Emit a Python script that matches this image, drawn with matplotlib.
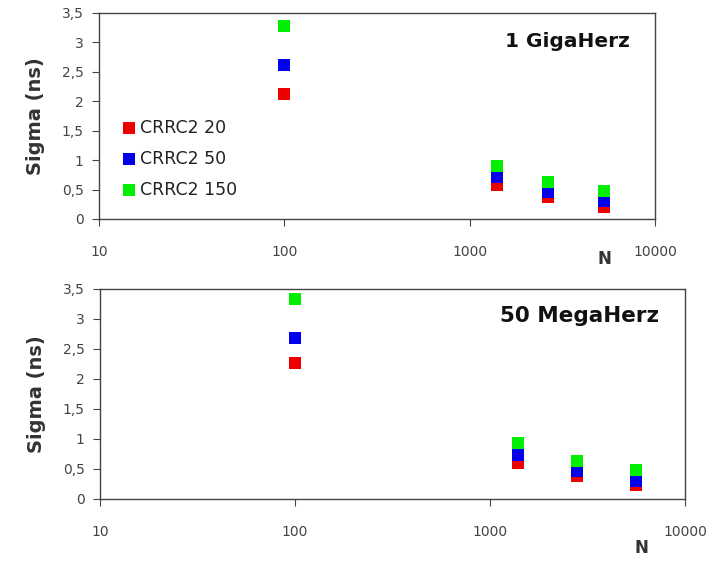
import matplotlib.pyplot as plt
from matplotlib.ticker import FuncFormatter, FixedLocator

labels = ['CRRC2 20', 'CRRC2 50', 'CRRC2 150']
colors = ['#ee0000', '#0000ee', '#00ee00']

# 1 GHz
n_ghz = [100, 1400, 2650, 5300]
ghz = [
    [2.13, 0.58, 0.37, 0.21],
    [2.62, 0.71, 0.46, 0.30],
    [3.28, 0.90, 0.63, 0.48],
]

# 50 MHz
n_mhz = [100, 1400, 2800, 5600]
mhz = [
    [2.27, 0.60, 0.38, 0.23],
    [2.68, 0.73, 0.47, 0.30],
    [3.33, 0.93, 0.63, 0.48],
]

W, H = 712, 561
fig = plt.figure(figsize=(W / 100, H / 100), dpi=100)


def comma(v, pos):
    s = ('%g' % v).replace('.', ',')
    return s


def setup(ax, title, nx, ny, tsize, ty):
    ax.set_xscale('log')
    ax.set_xlim(10, 10000)
    ax.set_ylim(0, 3.5)
    ax.yaxis.set_major_locator(FixedLocator([0, 0.5, 1, 1.5, 2, 2.5, 3, 3.5]))
    ax.yaxis.set_major_formatter(FuncFormatter(comma))
    ax.xaxis.set_major_locator(FixedLocator([10, 100, 1000, 10000]))
    ax.xaxis.set_major_formatter(FuncFormatter(lambda v, p: '%d' % v))
    ax.xaxis.set_minor_locator(FixedLocator([]))
    for s in ax.spines.values():
        s.set_color('#444444')
        s.set_linewidth(1.0)
    ax.tick_params(axis='both', direction='out', length=5, color='#444444',
                   labelsize=10, labelcolor='#444444', pad=6)
    ax.tick_params(axis='x', pad=14)
    ax.set_ylabel('Sigma (ns)', fontsize=14, fontweight='bold', color='#333333', labelpad=12)
    ax.text(0.955, ty, title, transform=ax.transAxes, ha='right', va='center',
            fontsize=tsize, fontweight='bold', color='#111111')
    fig.text(nx / W, 1 - ny / H, 'N', fontsize=12, fontweight='bold', color='#333333',
             ha='center', va='center')


ax1 = fig.add_axes([99 / W, 1 - 219 / H, (655 - 99) / W, (219 - 13) / H])
ax2 = fig.add_axes([100 / W, 1 - 499 / H, (685 - 100) / W, (499 - 289) / H])

for i in range(3):
    ax1.scatter(n_ghz, ghz[i], marker='s', s=70, color=colors[i], label=labels[i],
                linewidths=0, zorder=3)
    ax2.scatter(n_mhz, mhz[i], marker='s', s=70, color=colors[i], label=labels[i],
                linewidths=0, zorder=3)

setup(ax1, '1 GigaHerz', 604, 259, 14.5, 0.86)
setup(ax2, '50 MegaHerz', 641, 548, 15.5, 0.87)

ax1.legend(loc='upper left', bbox_to_anchor=(0.025, 0.52), frameon=False, fontsize=12.5,
           handletextpad=0.15, labelspacing=0.75, borderaxespad=0, markerscale=1.0,
           scatterpoints=1, handlelength=1.0, labelcolor='#222222')

fig.savefig('out.png', dpi=100)
